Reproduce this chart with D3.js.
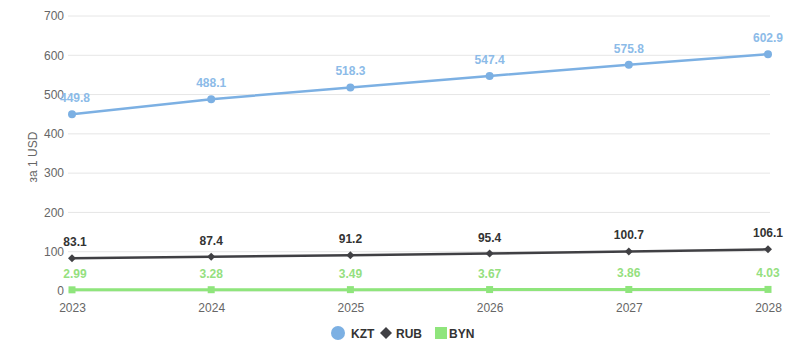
<!DOCTYPE html>
<html><head><meta charset="utf-8">
<script src="https://cdn.jsdelivr.net/npm/d3@7"></script>
<style>body{margin:0;background:#fff;font-family:"Liberation Sans",Arial,sans-serif;}</style>
</head><body>
<svg id="chart" width="809" height="356"></svg>
<script>
const years = ["2023","2024","2025","2026","2027","2028"];
const kzt = [449.8, 488.1, 518.3, 547.4, 575.8, 602.9];
const rub = [83.1, 87.4, 91.2, 95.4, 100.7, 106.1];
const byn = [2.99, 3.28, 3.49, 3.67, 3.86, 4.03];
const yTicks = [0,100,200,300,400,500,600,700];
const seriesNames = ["KZT","RUB","BYN"];

const series = [
  {name: seriesNames[0], values: kzt, color:"#7cb0e3", label:"#8cbbe8", marker:"circle", width:2.5},
  {name: seriesNames[1], values: rub, color:"#404044", label:"#333", marker:"diamond", width:2.5},
  {name: seriesNames[2], values: byn, color:"#8fe57c", label:"#95e07f", marker:"square", width:3}
];

const svg = d3.select("#chart");
const x = d3.scalePoint().domain(years).range([72, 768]);
const y = d3.scaleLinear().domain([0,700]).range([291, 16]);

// gridlines
svg.append("g").selectAll("line").data(yTicks).join("line")
  .attr("x1",68).attr("x2",770)
  .attr("y1",d=>y(d)).attr("y2",d=>y(d))
  .attr("stroke","#e6e6e6").attr("stroke-width",1);

// y axis
const yAxis = svg.append("g").attr("transform","translate(68,0)")
  .call(d3.axisLeft(y).tickValues(yTicks).tickSize(0).tickPadding(4));
yAxis.select(".domain").remove();
yAxis.selectAll("text").attr("fill","#666").attr("font-size","12px")
  .attr("font-family","Liberation Sans, Arial, sans-serif");

// x axis
const xAxis = svg.append("g").attr("transform","translate(0,291)")
  .call(d3.axisBottom(x).tickSize(0).tickPadding(12));
xAxis.select(".domain").remove();
xAxis.selectAll("text").attr("fill","#666").attr("font-size","12px")
  .attr("font-family","Liberation Sans, Arial, sans-serif");

// y title
svg.append("text").attr("transform","translate(37,157) rotate(-90)")
  .attr("text-anchor","middle").attr("fill","#666").attr("font-size","12px")
  .text("за 1 USD");

const line = d3.line().x((d,i)=>x(years[i])).y(d=>y(d));

function drawMarker(g, type, cx, cy, color, s){
  if(type==="circle") g.append("circle").attr("cx",cx).attr("cy",cy).attr("r",s).attr("fill",color);
  else if(type==="diamond") g.append("path").attr("d",`M${cx},${cy-s}L${cx+s},${cy}L${cx},${cy+s}L${cx-s},${cy}Z`).attr("fill",color);
  else g.append("rect").attr("x",cx-s).attr("y",cy-s).attr("width",2*s).attr("height",2*s).attr("fill",color);
}

series.forEach(s=>{
  const g = svg.append("g");
  g.append("path").datum(s.values).attr("d",line).attr("fill","none")
    .attr("stroke",s.color).attr("stroke-width",s.width).attr("stroke-linejoin","round");
  s.values.forEach((v,i)=>{
    drawMarker(g, s.marker, x(years[i]), y(v), s.color, s.marker==="square"?3.5:4);
    g.append("text").attr("x",x(years[i])+(i===0?3:0)).attr("y",y(v)-12)
      .attr("text-anchor","middle").attr("font-size","12px").attr("font-weight","bold")
      .attr("fill",s.label).text(v);
  });
});

// legend
const leg = svg.append("g");
const legPos = [{mx:338, tx:351},{mx:386, tx:396},{mx:441, tx:449}];
series.forEach((s,i)=>{
  drawMarker(leg, s.marker, legPos[i].mx, 333, s.color, s.marker==="circle"?7:6);
  leg.append("text").attr("x",legPos[i].tx).attr("y",337.5)
    .attr("font-size","12px").attr("font-weight","bold").attr("fill","#333").text(s.name);
});
</script>
</body></html>
